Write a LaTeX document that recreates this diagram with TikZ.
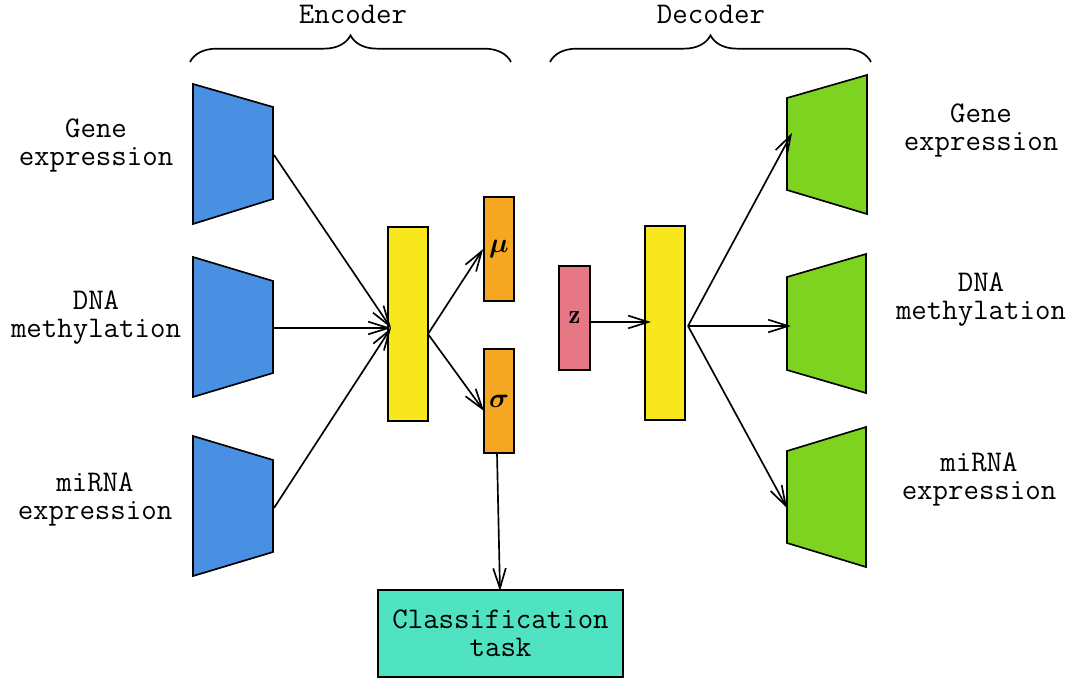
\documentclass[tikz,border=0pt]{standalone}
\usepackage{fontspec}
\usepackage{bm}
\usetikzlibrary{arrows.meta,decorations.pathreplacing}
\definecolor{inblue}{HTML}{4A90E2}
\definecolor{outgreen}{HTML}{7ED321}
\definecolor{hidyellow}{HTML}{F8E71C}
\definecolor{latorange}{HTML}{F5A623}
\definecolor{zpink}{HTML}{E87786}
\definecolor{clsteal}{HTML}{50E3C2}

\begin{document}
\begin{tikzpicture}[x=0.75pt, y=-0.75pt, line width=1.25pt,
  >={Straight Barb[length=15pt,width=9.5pt]},
  lbl/.style={font=\ttfamily\fontsize{22.5}{21}\selectfont, align=center},
  sym/.style={font=\fontsize{20}{24}\selectfont},
  bar/.style={draw, inner sep=0pt, minimum width=#1},
  ]
  \useasboundingbox (0,0) rectangle (1075,678);
  %--- Titles and braces
  \node[lbl, anchor=base, inner sep=0pt] (enctitle) at (353,23) {Encoder};
  \node[lbl, anchor=base, inner sep=0pt] (dectitle) at (711,23) {Decoder};
  \draw[decorate, decoration={brace, amplitude=20pt}] (190,62) -- (511,62);
  \draw[decorate, decoration={brace, amplitude=20pt}] (550,62) -- (871,62);
  %--- Inputs
  \fill[inblue] (193,84) -- (273,107) -- (273,199) -- (193,224) -- cycle;
  \draw (193,84) -- (273,107) -- (273,199) -- (193,224) -- cycle;
  \fill[inblue] (193,257) -- (273,281) -- (273,373) -- (193,397) -- cycle;
  \draw (193,257) -- (273,281) -- (273,373) -- (193,397) -- cycle;
  \fill[inblue] (193,436) -- (273,460) -- (273,552) -- (193,576) -- cycle;
  \draw (193,436) -- (273,460) -- (273,552) -- (193,576) -- cycle;
  \coordinate (genein) at (274,155);
  \coordinate (dnain) at (274,328);
  \coordinate (mirnain) at (274,508);
  \node[lbl] (genelbl) at (96,145) {Gene\\expression};
  \node[lbl] (dnalbl) at (96,318) {DNA\\methylation};
  \node[lbl] (mirnalbl) at (95,499) {miRNA\\expression};
  %--- Encoder, latent and decoder
  \node[bar=30pt, minimum height=145.5pt, fill=hidyellow] (enc) at (408,324) {};
  \node[bar=22.5pt, minimum height=78pt, fill=latorange, sym] (mu) at (499,249) {$\bm{\mu}$};
  \node[bar=22.5pt, minimum height=78pt, fill=latorange, sym] (sigma) at (499,401) {$\bm{\sigma}$};
  \node[bar=23.25pt, minimum height=78pt, fill=zpink, sym] (z) at (574.5,318) {$\mathbf{z}$};
  \node[bar=30pt, minimum height=145.5pt, fill=hidyellow] (dec) at (665,323) {};
  \node[bar=183.75pt, minimum height=65.25pt, fill=clsteal, lbl] (cls) at (500.5,633.5) {Classification\\task};
  \coordinate (encin) at (391,328);
  \coordinate (encout) at (428,334);
  \coordinate (sigin) at (484,411);
  \coordinate (sigout) at (497,453);
  \coordinate (clsin) at (500,591);
  \coordinate (zout) at (590,322);
  \coordinate (decin) at (651,322);
  \coordinate (decout) at (688,326);
  %--- Outputs
  \fill[outgreen] (787,98) -- (867,75) -- (867,214) -- (787,190) -- cycle;
  \draw (787,98) -- (867,75) -- (867,214) -- (787,190) -- cycle;
  \fill[outgreen] (787,277) -- (866,254) -- (866,393) -- (787,370) -- cycle;
  \draw (787,277) -- (866,254) -- (866,393) -- (787,370) -- cycle;
  \fill[outgreen] (787,451) -- (866,427) -- (866,567) -- (787,543) -- cycle;
  \draw (787,451) -- (866,427) -- (866,567) -- (787,543) -- cycle;
  \coordinate (geneout) at (792,133);
  \coordinate (dnaout) at (791,326);
  \coordinate (mirnaout) at (787,508);
  \node[lbl] (geneolbl) at (981,130) {Gene\\expression};
  \node[lbl] (dnaolbl) at (981,300) {DNA\\methylation};
  \node[lbl] (mirnaolbl) at (979,479) {miRNA\\expression};
  %--- Arrows
  \draw[->] (genein) -- (encin);
  \draw[->] (dnain) -- (encin);
  \draw[->] (mirnain) -- (encin);
  \draw[->] (encout) -- (mu.west);
  \draw[->] (encout) -- (sigin);
  \draw[->] (sigout) -- (clsin);
  \draw[->] (zout) -- (decin);
  \draw[->] (decout) -- (geneout);
  \draw[->] (decout) -- (dnaout);
  \draw[->] (decout) -- (mirnaout);
\end{tikzpicture}
\end{document}
